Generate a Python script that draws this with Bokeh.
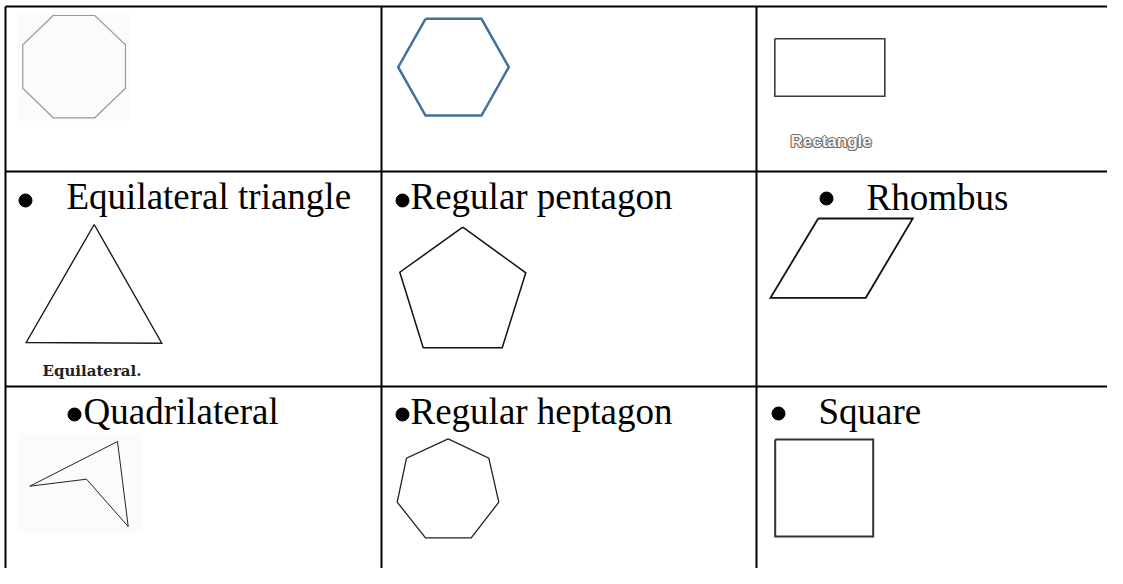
from bokeh.plotting import figure
from bokeh.models import Range1d
from bokeh.core.properties import value
from bokeh.embed import file_html
from bokeh.resources import INLINE

# ---- table grid (reference pixel coordinates) ----
grid_rows_y = [6, 171, 386]
grid_cols_x = [5, 381, 756]
grid_right = 1123
grid_bottom = 584

# ---- cell captions ----
caption_text = ["Equilateral triangle", "Regular pentagon", "Rhombus",
                "Quadrilateral", "Regular heptagon", "Square"]
caption_x = [66, 410, 866, 83, 410, 818]
caption_y = [208, 208, 209, 423, 423, 423]
bullet_x = [25, 402, 826, 74, 402, 778]
bullet_y = [200, 200, 198, 414, 414, 413]

# ---- shapes (vertices) ----
octagon_x = [52.7, 94.3, 125, 125, 94.3, 52.7, 22.3, 22.3]
octagon_y = [15, 15, 44.3, 87.7, 117.3, 117.3, 87.7, 44.3]
hexagon_x = [425, 481, 508.3, 481, 425, 397.7]
hexagon_y = [18.3, 18.3, 66.7, 115, 115, 66.7]
rectangle_x = [774.3, 884.3, 884.3, 774.3]
rectangle_y = [38.3, 38.3, 95.7, 95.7]
triangle_x = [93.7, 161.3, 25.7]
triangle_y = [224, 342.7, 342]
pentagon_x = [462.3, 525.3, 501.7, 422.7, 399.3]
pentagon_y = [226.7, 272.3, 347.3, 347.3, 271.7]
rhombus_x = [817.7, 912.3, 865.3, 770]
rhombus_y = [218, 218, 297.3, 297.3]
quad_x = [29.3, 117, 127.7, 86]
quad_y = [485.7, 441, 526, 478.7]
heptagon_x = [447.7, 488.3, 498.3, 470.7, 425, 396.7, 406]
heptagon_y = [438.3, 457.7, 501.7, 537.3, 537.3, 501.7, 457.7]
square_x = [774.7, 872.7, 872.7, 774.7]
square_y = [439, 439, 536, 536]

# ---- small image captions ----
image_caption_text = ["Rectangle", "Equilateral."]
image_caption_x = [790, 42]
image_caption_y = [147, 375]

W, H = 1107, 568
p = figure(width=W, height=H,
           x_range=Range1d(0, W), y_range=Range1d(H, 0),
           output_backend="svg", toolbar_location=None,
           x_axis_location=None, y_axis_location=None, min_border=0)
p.grid.visible = False
p.outline_line_color = None
p.background_fill_color = "white"
p.border_fill_color = "white"

# faint picture backgrounds
p.quad(left=[17, 17], right=[130, 142], top=[12, 433], bottom=[120, 533],
       fill_color="#fbfbfb", line_color=None)

# grid
n = len(grid_rows_y)
p.segment(x0=[grid_cols_x[0]] * n, x1=[grid_right] * n,
          y0=grid_rows_y, y1=grid_rows_y, line_color="black", line_width=2)
m = len(grid_cols_x)
p.segment(x0=grid_cols_x, x1=grid_cols_x,
          y0=[grid_rows_y[0]] * m, y1=[grid_bottom] * m,
          line_color="black", line_width=2)

def poly(xs, ys, color, width):
    p.line(xs + xs[:1], ys + ys[:1], line_color=color, line_width=width,
           line_join="miter")

poly(octagon_x, octagon_y, "#9a9a9a", 1.2)
poly(hexagon_x, hexagon_y, "#41719c", 2.5)
poly(rectangle_x, rectangle_y, "#3a3a3a", 1.6)
poly(triangle_x, triangle_y, "#1a1a1a", 1.4)
poly(pentagon_x, pentagon_y, "#111111", 1.5)
poly(rhombus_x, rhombus_y, "#111111", 1.8)
poly(quad_x, quad_y, "#222222", 1.0)
poly(heptagon_x, heptagon_y, "#222222", 1.3)
poly(square_x, square_y, "#333333", 2.0)

# baseline correction for the renderer's text placement
def up(ys, size):
    return [y - 0.33 * size for y in ys]

p.scatter(bullet_x, bullet_y, size=13, marker="circle",
          fill_color="black", line_color="black")
p.text(caption_x, up(caption_y, 37), text=caption_text,
       text_font=value("Liberation Serif"),
       text_font_size="37px", text_color="black",
       text_baseline="alphabetic", text_align="left")

# outlined "Rectangle" label: grey halo, white face
rx, ry = image_caption_x[0], up(image_caption_y[:1], 17)[0]
for dx, dy in [(-1, 0), (1, 0), (0, -1), (0, 1), (-0.7, -0.7), (0.7, 0.7), (-0.7, 0.7), (0.7, -0.7)]:
    p.text([rx + dx], [ry + dy], text=image_caption_text[:1],
           text_font=value("Liberation Sans"), text_font_style="bold",
           text_font_size="17px", text_color="#6e6e6e",
           text_baseline="alphabetic", text_align="left")
p.text([rx], [ry], text=image_caption_text[:1],
       text_font=value("Liberation Sans"), text_font_style="bold",
       text_font_size="17px", text_color="#f4f4f4",
       text_baseline="alphabetic", text_align="left")

p.text(image_caption_x[1:], up(image_caption_y[1:], 15), text=image_caption_text[1:],
       text_font=value("DejaVu Serif"), text_font_style="bold",
       text_font_size="15px", text_color="#222222",
       text_baseline="alphabetic", text_align="left")

open("out.html", "w").write(file_html(p, INLINE))
